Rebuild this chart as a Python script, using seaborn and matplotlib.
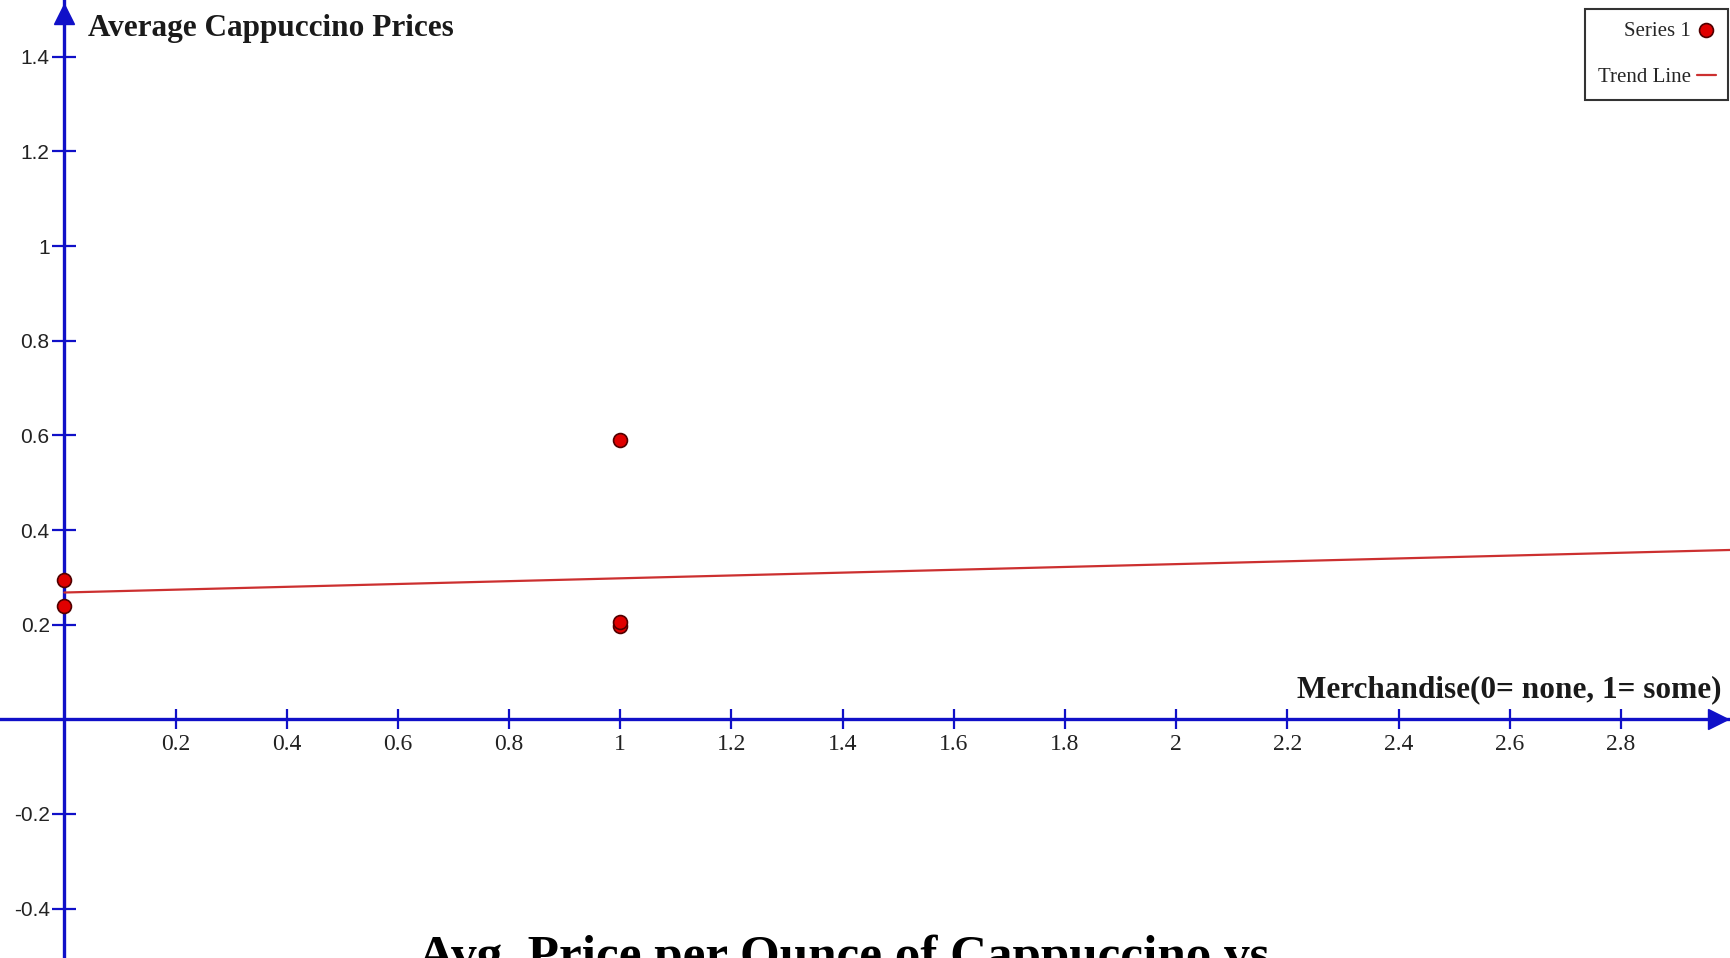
import numpy as np
import pandas as pd
import matplotlib.pyplot as plt
import seaborn as sns
from matplotlib.ticker import FixedLocator, FormatStrFormatter

# data
merch = [0, 0, 1, 1, 1]
price = [0.294, 0.240, 0.590, 0.197, 0.206]
trend_x = [0, 3.0]
trend_y = [0.268, 0.358]
x_ticks = [0.2, 0.4, 0.6, 0.8, 1, 1.2, 1.4, 1.6, 1.8, 2, 2.2, 2.4, 2.6, 2.8]
y_ticks = [-0.4, -0.2, 0.2, 0.4, 0.6, 0.8, 1, 1.2, 1.4]

sns.set_theme(style='white')
plt.rcParams['font.family'] = ['Liberation Serif', 'DejaVu Serif']

blue = '#1010c8'
red = '#e00000'

fig = plt.figure(figsize=(17.3, 9.58), dpi=100)
ax = fig.add_axes([0, 0, 1, 1])

df = pd.DataFrame({'Merchandise': merch, 'Price': price})
sns.scatterplot(data=df, x='Merchandise', y='Price', ax=ax, color=red,
                edgecolor='#500000', s=100, linewidth=1.2, label='Series 1',
                zorder=5, clip_on=False)
sns.lineplot(x=trend_x, y=trend_y, ax=ax, color='#cc3030', lw=1.6,
             label='Trend Line', zorder=4)

ax.set_xlim(-0.1157, 2.996)
ax.set_ylim(-0.5043, 1.520)
ax.set_xlabel('')
ax.set_ylabel('')

# axes crossing at the origin
for s in ['top', 'right']:
    ax.spines[s].set_visible(False)
for s in ['left', 'bottom']:
    ax.spines[s].set_position(('data', 0))
    ax.spines[s].set_color(blue)
    ax.spines[s].set_linewidth(2.4)

# arrow heads
ax.plot(0.993, 0, '>', transform=ax.get_yaxis_transform(), color=blue,
        markersize=14, clip_on=False)
ax.plot(0, 0.985, '^', transform=ax.get_xaxis_transform(), color=blue,
        markersize=14, clip_on=False)

ax.xaxis.set_major_locator(FixedLocator(x_ticks))
ax.yaxis.set_major_locator(FixedLocator(y_ticks))
ax.xaxis.set_major_formatter(FormatStrFormatter('%g'))
ax.yaxis.set_major_formatter(FormatStrFormatter('%g'))
ax.tick_params(axis='both', direction='inout', width=1.6,
               color=blue, labelcolor='#222222', bottom=True, left=True)
ax.tick_params(axis='x', length=14.5, labelsize=17, pad=3)
ax.tick_params(axis='y', length=17, labelsize=15, pad=2)
for lab in ax.get_yticklabels():
    lab.set_fontfamily(['Liberation Sans', 'DejaVu Sans'])

ax.text(0.0509, 0.970, 'Average Cappuccino Prices', transform=ax.transAxes,
        fontsize=22.5, fontweight='bold', va='center', ha='left', color='#1a1a1a')
ax.text(0.9948, 0.2797, 'Merchandise(0= none, 1= some)', transform=ax.transAxes,
        fontsize=22.5, fontweight='bold', va='center', ha='right', color='#1a1a1a')

fig.text(0.4875, -0.013, 'Avg. Price per Ounce of Cappuccino vs',
         ha='center', va='baseline', fontsize=36.8, fontweight='bold', color='black')

leg = ax.legend(loc='upper right', bbox_to_anchor=(0.999, 0.991),
                borderaxespad=0, markerfirst=False, frameon=True, fancybox=False,
                edgecolor='black', fontsize=15, borderpad=0.6,
                handlelength=0.9, handletextpad=0.3, labelspacing=1.3)
leg.get_frame().set_linewidth(1.5)

fig.savefig('out.png', dpi=100)
